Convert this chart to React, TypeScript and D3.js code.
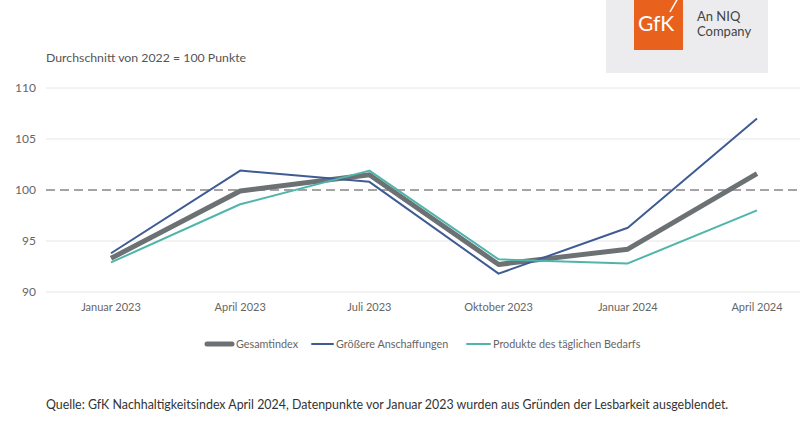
import React from "react";
import * as d3 from "d3";

const categories = ["Januar 2023", "April 2023", "Juli 2023", "Oktober 2023", "Januar 2024", "April 2024"];
const gesamtindex = [93.3, 99.9, 101.5, 92.7, 94.2, 101.6];
const groessere = [93.8, 101.9, 100.8, 91.8, 96.3, 107.0];
const produkte = [92.9, 98.6, 101.9, 93.2, 92.8, 98.0];
const yTicks = [90, 95, 100, 105, 110];

const series = [
  { name: "Gesamtindex", values: gesamtindex, color: "#6c7174", width: 5 },
  { name: "Größere Anschaffungen", values: groessere, color: "#3f5b93", width: 2 },
  { name: "Produkte des täglichen Bedarfs", values: produkte, color: "#4fb5aa", width: 2 },
];

const FONT = "Lato, 'Open Sans', sans-serif";

export default function App() {
  const W = 800, H = 422;
  const x = d3.scalePoint<string>().domain(categories).range([111, 757]);
  const y = d3.scaleLinear().domain([90, 110]).range([292, 88]);
  const line = d3.line<number>().x((_, i) => x(categories[i])!).y((d) => y(d));

  const legendItems = [
    { x: 207, sw: 25, tx: 236 },
    { x: 312, sw: 21, tx: 336 },
    { x: 467, sw: 23, tx: 493 },
  ];

  return (
    <svg width={W} height={H} style={{ position: "absolute", left: 0, top: 0, fontFamily: FONT }}>
      <rect x={0} y={0} width={W} height={H} fill="#ffffff" />
      {/* logo */}
      <rect x={606} y={0} width={162} height={73} fill="#ececef" />
      <rect x={634} y={0} width={49} height={50} fill="#e8621e" />
      <text x={638} y={31} fill="#ffffff" fontSize={21} fontFamily={FONT}>GfK</text>
      <line x1={670} y1={12} x2={678} y2={-2} stroke="#ffffff" strokeWidth={1.5} />
      <text x={697} y={21} fill="#444" fontSize={13} fontFamily={FONT}>An NIQ</text>
      <text x={697} y={36} fill="#444" fontSize={13} fontFamily={FONT}>Company</text>

      <text x={46} y={62} fill="#555" fontSize={12.3}>Durchschnitt von 2022 = 100 Punkte</text>

      {yTicks.map((t) => (
        <g key={t}>
          {t !== 100 && (
            <line x1={46} x2={800} y1={y(t)} y2={y(t)} stroke="#e6e6e6" strokeWidth={1} />
          )}
          <text x={36} y={y(t)} dy="0.35em" textAnchor="end" fill="#666" fontSize={12}>{t}</text>
        </g>
      ))}
      <line x1={46} x2={800} y1={y(100)} y2={y(100)} stroke="#4a4a4a" strokeWidth={1.2} strokeDasharray="9,5" />

      {categories.map((c) => (
        <text key={c} x={x(c)} y={311} textAnchor="middle" fill="#666" fontSize={11}>{c}</text>
      ))}

      {series.map((s) => (
        <path key={s.name} d={line(s.values)!} fill="none" stroke={s.color} strokeWidth={s.width} strokeLinejoin="round" />
      ))}

      {series.map((s, i) => (
        <g key={s.name}>
          <line x1={legendItems[i].x} x2={legendItems[i].x + legendItems[i].sw} y1={344} y2={344} stroke={s.color} strokeWidth={s.width} strokeLinecap="round" />
          <text x={legendItems[i].tx} y={344} dy="0.35em" fill="#666" fontSize={10.8}>{s.name}</text>
        </g>
      ))}

      <text x={46} y={409} fill="#333" fontSize={12.4}>Quelle: GfK Nachhaltigkeitsindex April 2024, Datenpunkte vor Januar 2023 wurden aus Gründen der Lesbarkeit ausgeblendet.</text>
    </svg>
  );
}
